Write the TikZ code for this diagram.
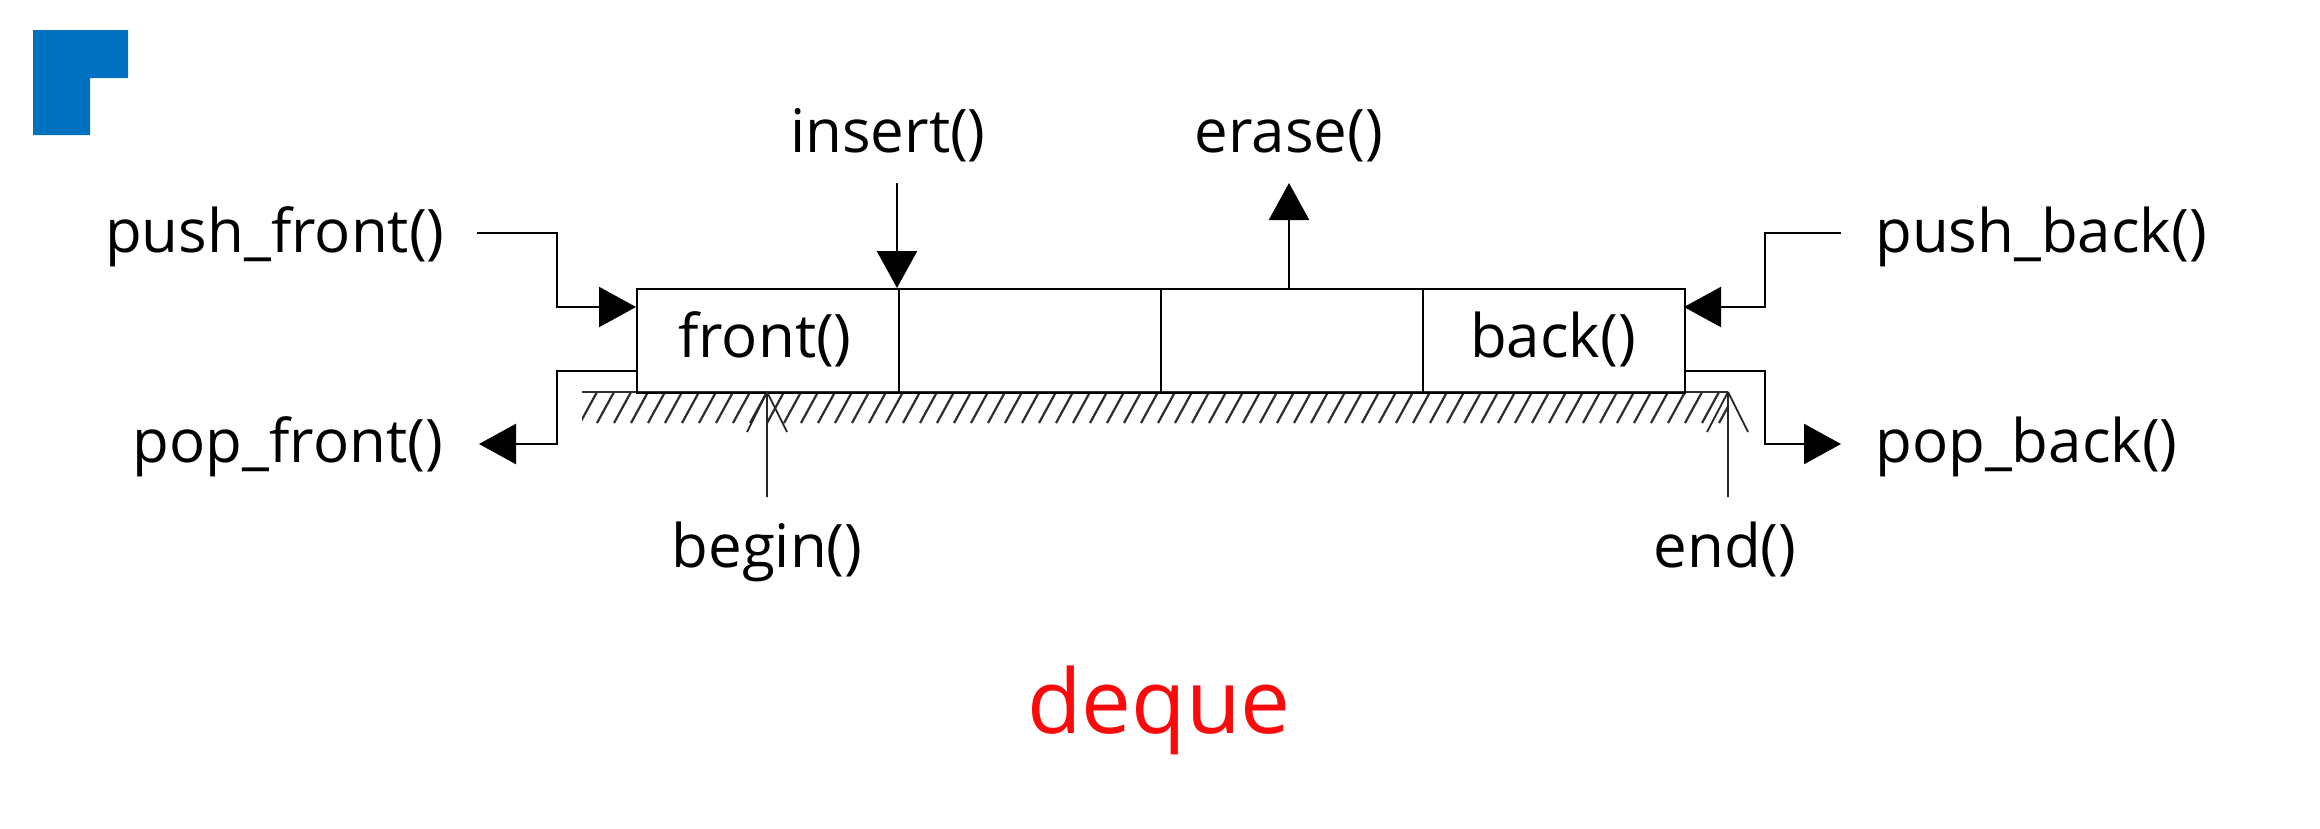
\documentclass[tikz,border=0pt]{standalone}
\usepackage{fontspec}
\setmainfont{Open Sans}
\usetikzlibrary{arrows.meta}
\definecolor{logoblue}{RGB}{0,112,192}
\definecolor{dequered}{RGB}{250,10,10}
\definecolor{hatchgray}{RGB}{45,45,45}
\tikzset{
  lbl/.style={inner sep=0pt, anchor=base, font=\fontsize{60}{72}\selectfont, text=black},
  cell/.style={draw=black, line width=2.4pt, minimum width=262pt, minimum height=104pt, inner sep=0pt, anchor=north west},
  conn/.style={draw=black, line width=2.4pt},
  arr/.style={conn, -{Triangle[length=37pt,width=40pt]}},
  thin/.style={draw=black!85, line width=1.8pt},
  hatchline/.style={draw=hatchgray, line width=2.2pt}
}
\begin{document}
\begin{tikzpicture}[x=1pt,y=-1pt]
\useasboundingbox (0,0) rectangle (2320,828);
% logo
\fill[logoblue] (33,30) -- (128,30) -- (128,78) -- (90,78) -- (90,135) -- (33,135) -- cycle;
% hatch
\begin{scope}
  \clip (582,392) rectangle (1728,423);
  \foreach \x in {580,597,...,1760} {
    \draw[hatchline] (\x,423) -- ++(17,-31);
  }
\end{scope}
\draw[hatchline] (582,392) -- (1728,392);
% cells
\node[cell] (c1) at (636,288) {};
\node[cell] (c2) at (898,288) {};
\node[cell] (c3) at (1160,288) {};
\node[cell] (c4) at (1422,288) {};
\node[lbl] (front) at (765,357) {front()};
\node[lbl] (back) at (1553,357) {back()};
% labels
\node[lbl, anchor=base west] (pushf) at (105,252) {push\_front()};
\node[lbl, anchor=base east] (popf) at (443,462) {pop\_front()};
\node[lbl, anchor=base west] (pushb) at (1875,252) {push\_back()};
\node[lbl, anchor=base west] (popb) at (1875,462) {pop\_back()};
\node[lbl] (ins) at (888,152) {insert()};
\node[lbl] (era) at (1289,152) {erase()};
\node[lbl] (beg) at (767,567) {begin()};
\node[lbl] (endl) at (1725,567) {end()};
\node[inner sep=0pt, anchor=base, font=\fontsize{89}{100}\selectfont, text=dequered] (dq) at (1159,733) {deque};
% coordinates
\coordinate (pfs) at (477,233);
\coordinate (pfe) at (636,307);
\coordinate (pos) at (636,371);
\coordinate (poe) at (479,444);
\coordinate (pbs) at (1841,233);
\coordinate (pbe) at (1684,307);
\coordinate (pbos) at (1684,371);
\coordinate (pboe) at (1841,444);
\coordinate (ins0) at (897,183);
\coordinate (ins1) at (897,288);
\coordinate (era0) at (1289,288);
\coordinate (era1) at (1289,183);
\coordinate (bg0) at (767,497);
\coordinate (bg1) at (767,392);
\coordinate (en0) at (1728,497);
\coordinate (en1) at (1728,392);
% connectors
\draw[arr] (pfs) -| (557,307) -- (pfe);
\draw[arr] (pos) -- (557,371) |- (poe);
\draw[arr] (pbs) -| (1765,307) -- (pbe);
\draw[arr] (pbos) -- (1765,371) |- (pboe);
\draw[arr] (ins0) -- (ins1);
\draw[arr] (era0) -- (era1);
\draw[thin] (bg0) -- (bg1) (bg1) -- ++(-20,40) (bg1) -- ++(20,40);
\draw[thin] (en0) -- (en1) (en1) -- ++(-21,40) (en1) -- ++(20,40);
\end{tikzpicture}
\end{document}
